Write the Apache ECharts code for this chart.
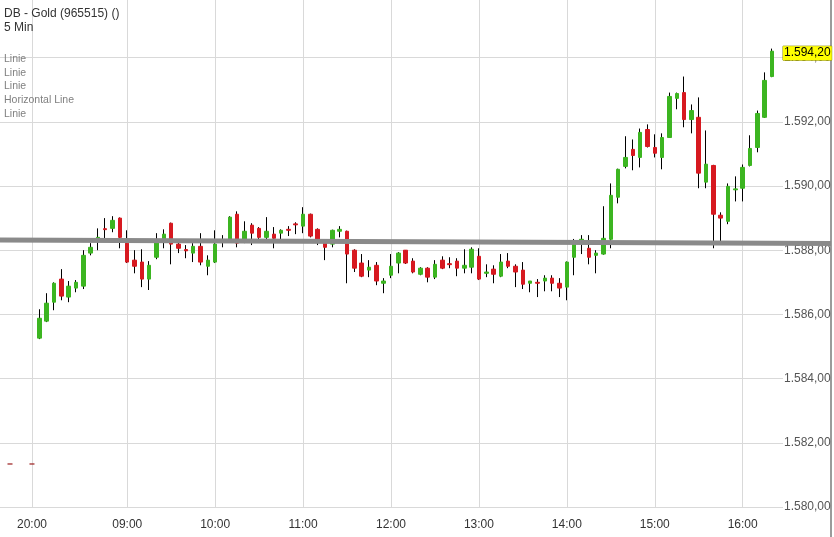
<!DOCTYPE html>
<html>
<head>
<meta charset="utf-8">
<title>DB - Gold (965515)</title>
<script src="https://cdn.jsdelivr.net/npm/echarts@6/dist/echarts.min.js"></script>
<style>
    html, body { margin: 0; padding: 0; background: #fff; }
    #goldChart { width: 834px; height: 537px; }
</style>
</head>
<body>
<div id="goldChart"></div>
<script>
// 5 min candles from 08:00 to 16:20, [open, close, low, high]
var candles = [
    [1585.26, 1585.88, 1585.23, 1586.16], [1585.79, 1586.35, 1585.76, 1586.66], [1586.38, 1586.97, 1586.13, 1587.00],
    [1587.10, 1586.57, 1586.44, 1587.41], [1586.54, 1586.88, 1586.38, 1587.04], [1586.82, 1587.00, 1586.69, 1587.07],
    [1586.88, 1587.84, 1586.79, 1588.00], [1587.91, 1588.09, 1587.84, 1588.22], [1588.35, 1588.40, 1588.00, 1588.68],
    [1588.67, 1588.64, 1588.37, 1589.00], [1588.68, 1588.93, 1588.56, 1589.06], [1589.00, 1588.40, 1588.06, 1589.02],
    [1588.22, 1587.63, 1587.60, 1588.62], [1587.69, 1587.50, 1587.28, 1588.00], [1587.63, 1587.10, 1586.85, 1588.03],
    [1587.10, 1587.53, 1586.76, 1587.66], [1587.78, 1588.25, 1587.72, 1588.53], [1588.34, 1588.50, 1588.06, 1588.65],
    [1588.84, 1588.19, 1587.56, 1588.86], [1588.19, 1588.06, 1587.91, 1588.25], [1588.02, 1587.98, 1587.75, 1588.16],
    [1587.91, 1588.12, 1587.63, 1588.22], [1588.12, 1587.63, 1587.53, 1588.53], [1587.50, 1587.69, 1587.22, 1587.84],
    [1587.63, 1588.19, 1587.60, 1588.62], [1588.28, 1588.32, 1588.09, 1588.47], [1588.34, 1589.03, 1588.25, 1589.06],
    [1589.12, 1588.22, 1588.09, 1589.21], [1588.34, 1588.59, 1588.22, 1588.90], [1588.78, 1588.53, 1588.16, 1588.84],
    [1588.68, 1588.40, 1588.34, 1588.72], [1588.40, 1588.59, 1588.31, 1589.03], [1588.50, 1588.37, 1588.06, 1588.72],
    [1588.53, 1588.62, 1588.34, 1588.65], [1588.65, 1588.62, 1588.44, 1588.75], [1588.82, 1588.79, 1588.50, 1588.87],
    [1588.75, 1589.12, 1588.53, 1589.34], [1589.12, 1588.44, 1588.40, 1589.14], [1588.65, 1588.34, 1588.16, 1588.68],
    [1588.25, 1588.09, 1587.69, 1588.34], [1588.19, 1588.62, 1588.09, 1588.64], [1588.59, 1588.65, 1588.40, 1588.75],
    [1588.59, 1587.88, 1586.97, 1588.61], [1588.00, 1587.44, 1587.32, 1588.03], [1587.60, 1587.19, 1587.16, 1587.88],
    [1587.38, 1587.47, 1587.16, 1587.69], [1587.53, 1587.04, 1586.91, 1587.63], [1586.97, 1587.04, 1586.66, 1587.13],
    [1587.22, 1587.50, 1587.13, 1587.88], [1587.60, 1587.91, 1587.28, 1587.94], [1588.00, 1587.60, 1587.57, 1588.00],
    [1587.66, 1587.32, 1587.28, 1587.75], [1587.25, 1587.44, 1587.22, 1587.47], [1587.44, 1587.16, 1587.00, 1587.47],
    [1587.16, 1587.56, 1587.10, 1587.69], [1587.69, 1587.44, 1587.41, 1587.81], [1587.58, 1587.55, 1587.44, 1587.78],
    [1587.66, 1587.44, 1587.19, 1587.75], [1587.44, 1587.53, 1587.28, 1588.03], [1587.47, 1588.03, 1587.28, 1588.09],
    [1587.81, 1587.10, 1587.07, 1588.06], [1587.28, 1587.32, 1587.16, 1587.56], [1587.41, 1587.25, 1586.97, 1587.53],
    [1587.19, 1587.63, 1587.16, 1587.88], [1587.66, 1587.50, 1587.44, 1587.91], [1587.50, 1587.32, 1586.85, 1587.56],
    [1587.38, 1586.94, 1586.79, 1587.63], [1586.97, 1587.04, 1586.69, 1587.04], [1587.00, 1586.97, 1586.54, 1587.10],
    [1587.04, 1587.13, 1586.72, 1587.22], [1587.13, 1586.97, 1586.72, 1587.22], [1586.97, 1586.82, 1586.54, 1587.13],
    [1586.85, 1587.63, 1586.44, 1587.65], [1587.78, 1588.22, 1587.22, 1588.35], [1588.28, 1588.34, 1587.88, 1588.47],
    [1588.06, 1587.78, 1587.56, 1588.47], [1587.84, 1587.91, 1587.28, 1588.00], [1587.88, 1588.37, 1587.86, 1589.37],
    [1588.34, 1589.71, 1588.06, 1590.08], [1589.65, 1590.52, 1589.46, 1590.54], [1590.61, 1590.89, 1590.55, 1591.55],
    [1591.14, 1590.95, 1590.49, 1591.45], [1590.89, 1591.67, 1590.58, 1591.79], [1591.76, 1591.23, 1591.20, 1591.92],
    [1591.20, 1591.02, 1590.89, 1591.61], [1590.89, 1591.51, 1590.52, 1591.64], [1591.51, 1592.79, 1591.50, 1592.91],
    [1592.73, 1592.88, 1592.39, 1592.91], [1592.91, 1592.07, 1591.83, 1593.41], [1592.07, 1592.35, 1591.64, 1592.54],
    [1592.14, 1590.40, 1589.93, 1592.76], [1590.12, 1590.68, 1589.93, 1591.73], [1590.64, 1589.12, 1588.06, 1590.66],
    [1589.09, 1589.00, 1588.28, 1589.18], [1588.90, 1589.99, 1588.81, 1590.08], [1589.88, 1589.91, 1589.52, 1590.30],
    [1589.93, 1590.58, 1589.52, 1590.67], [1590.64, 1591.17, 1590.61, 1591.58], [1591.20, 1592.26, 1591.05, 1592.35],
    [1592.14, 1593.29, 1592.12, 1593.54], [1593.41, 1594.20, 1593.39, 1594.28]
];
// empty slots before the session (previous evening) and one after
var leadSlots = ['19:40', '19:45', '19:50', '19:55', '20:00'];
var sessionStart = '08:00';
var trailSlots = ['16:25'];
var hourLabels = ['20:00', '09:00', '10:00', '11:00', '12:00', '13:00', '14:00', '15:00', '16:00'];
var yTicks = { min: 1580, max: 1596, step: 2 };
// overlay pane reaches the bottom edge, so it starts a little lower
var overlayMin = 1579.065;

// small "Linie" remnants at the far left
var lineDashes = [['19:45', 1581.34], ['20:00', 1581.34]];
// thick grey horizontal line, value at left and right end
var horizLine = [1588.32, 1588.21];
var lastPrice = 1594.20;

// --- categories: 5 min slots
function addMinutes(t, m) {
    var p = t.split(':');
    var total = parseInt(p[0], 10) * 60 + parseInt(p[1], 10) + m;
    var h = Math.floor(total / 60), mm = total % 60;
    return (h < 10 ? '0' : '') + h + ':' + (mm < 10 ? '0' : '') + mm;
}
var categories = leadSlots.slice();
for (var i = 0; i < candles.length; i++) {
    categories.push(addMinutes(sessionStart, i * 5));
}
categories = categories.concat(trailSlots);
var firstSlot = leadSlots.length;

var wickData = candles.map(function (c, i) {
    return [firstSlot + i, c[0], c[1], c[2], c[3]];
});
var bodyData = candles.map(function (c, i) {
    return [firstSlot + i, c[0], c[1], Math.min(c[0], c[1]), Math.max(c[0], c[1])];
});

function germanNum(v) {
    var s = v.toFixed(2).split('.');
    var intPart = s[0].replace(/\B(?=(\d{3})+(?!\d))/g, '.');
    return intPart + ',' + s[1];
}

var dom = document.getElementById('goldChart');
var goldChart = echarts.init(dom);
var option = {
    animation: false,
    textStyle: { fontFamily: 'Liberation Sans, Arial, sans-serif' },
    title: [{
        text: 'DB - Gold (965515) ()\n5 Min',
        left: 4,
        top: 7,
        padding: 0,
        textStyle: { fontSize: 12, fontWeight: 'normal', color: '#333', lineHeight: 14 }
    }, {
        text: 'Linie\nLinie\nLinie\nHorizontal Line\nLinie',
        left: 4,
        top: 52,
        padding: 0,
        textStyle: { fontSize: 10.5, fontWeight: 'normal', color: '#808080', lineHeight: 13.8 }
    }],
    grid: [
        { left: -1, right: 51, top: -6.6, bottom: 30, outerBoundsMode: 'none' },
        { left: 0, right: 3, top: -6.6, bottom: 0, outerBoundsMode: 'none' }
    ],
    xAxis: [{
        type: 'category',
        gridIndex: 0,
        data: categories,
        boundaryGap: true,
        axisLine: { show: false },
        axisTick: { show: false },
        splitLine: { show: false },
        axisLabel: {
            color: '#333',
            fontSize: 12,
            margin: 12,
            interval: function (idx, val) {
                return hourLabels.indexOf(val) >= 0;
            }
        }
    }, {
        type: 'value',
        gridIndex: 1,
        min: 0,
        max: 1,
        show: false
    }],
    yAxis: [{
        type: 'value',
        gridIndex: 0,
        position: 'right',
        min: yTicks.min,
        max: yTicks.max,
        interval: yTicks.step,
        axisLine: { show: false },
        axisTick: { show: false },
        splitLine: { lineStyle: { color: '#d9d9d9', width: 1 } },
        axisLabel: {
            color: '#555',
            fontSize: 12,
            margin: 1,
            showMaxLabel: false,
            formatter: function (v) { return germanNum(v); }
        }
    }, {
        type: 'value',
        gridIndex: 1,
        position: 'right',
        min: overlayMin,
        max: yTicks.max,
        axisLine: { show: true, onZero: false, lineStyle: { color: '#7a7a7a', width: 1.5 } },
        axisTick: { show: false },
        axisLabel: { show: false },
        splitLine: { show: false }
    }],
    series: [
        {
            name: 'wicks',
            type: 'candlestick',
            xAxisIndex: 0,
            yAxisIndex: 0,
            encode: { x: 0, y: [1, 2, 3, 4] },
            data: wickData,
            barWidth: 1,
            silent: true,
            z: 2,
            itemStyle: {
                color: '#000', color0: '#000',
                borderColor: '#000', borderColor0: '#000',
                borderWidth: 1
            }
        },
        {
            name: 'DB - Gold',
            type: 'candlestick',
            xAxisIndex: 0,
            yAxisIndex: 0,
            encode: { x: 0, y: [1, 2, 3, 4] },
            data: bodyData,
            barWidth: 4,
            silent: true,
            z: 3,
            itemStyle: {
                color: '#3cb521', color0: '#d71920',
                borderColor: '#3cb521', borderColor0: '#d71920',
                borderWidth: 1
            },
            markLine: {
                silent: true,
                symbol: 'none',
                z: 1,
                animation: false,
                label: { show: false },
                lineStyle: { color: '#d9d9d9', width: 1, type: 'solid' },
                data: hourLabels.map(function (h) {
                    return { xAxis: h };
                }).concat([{
                    yAxis: lastPrice,
                    lineStyle: { color: 'rgba(0,0,0,0)' },
                    label: {
                        show: true,
                        position: 'end',
                        distance: 0,
                        offset: [0, 2],
                        formatter: germanNum(lastPrice),
                        color: '#000',
                        fontSize: 12,
                        lineHeight: 14,
                        backgroundColor: '#ffff00',
                        borderColor: '#8a8a00',
                        borderWidth: 0.5,
                        padding: [0, 1, 0, 1]
                    }
                }])
            }
        },
        {
            name: 'Linie',
            type: 'scatter',
            xAxisIndex: 0,
            yAxisIndex: 0,
            data: lineDashes,
            symbol: 'rect',
            symbolSize: [5, 1.5],
            silent: true,
            itemStyle: { color: '#9a1b1b' }
        },
        {
            name: 'Horizontal Line',
            type: 'line',
            xAxisIndex: 1,
            yAxisIndex: 1,
            data: [[0, horizLine[0]], [1, horizLine[1]]],
            showSymbol: false,
            silent: true,
            z: 10,
            lineStyle: { color: '#8a8a8a', width: 5 }
        }
    ]
};
goldChart.setOption(option, true);
window.addEventListener('resize', function () {
    setTimeout(function () {
        goldChart.resize();
    }, 0);
});
</script>
</body>
</html>
